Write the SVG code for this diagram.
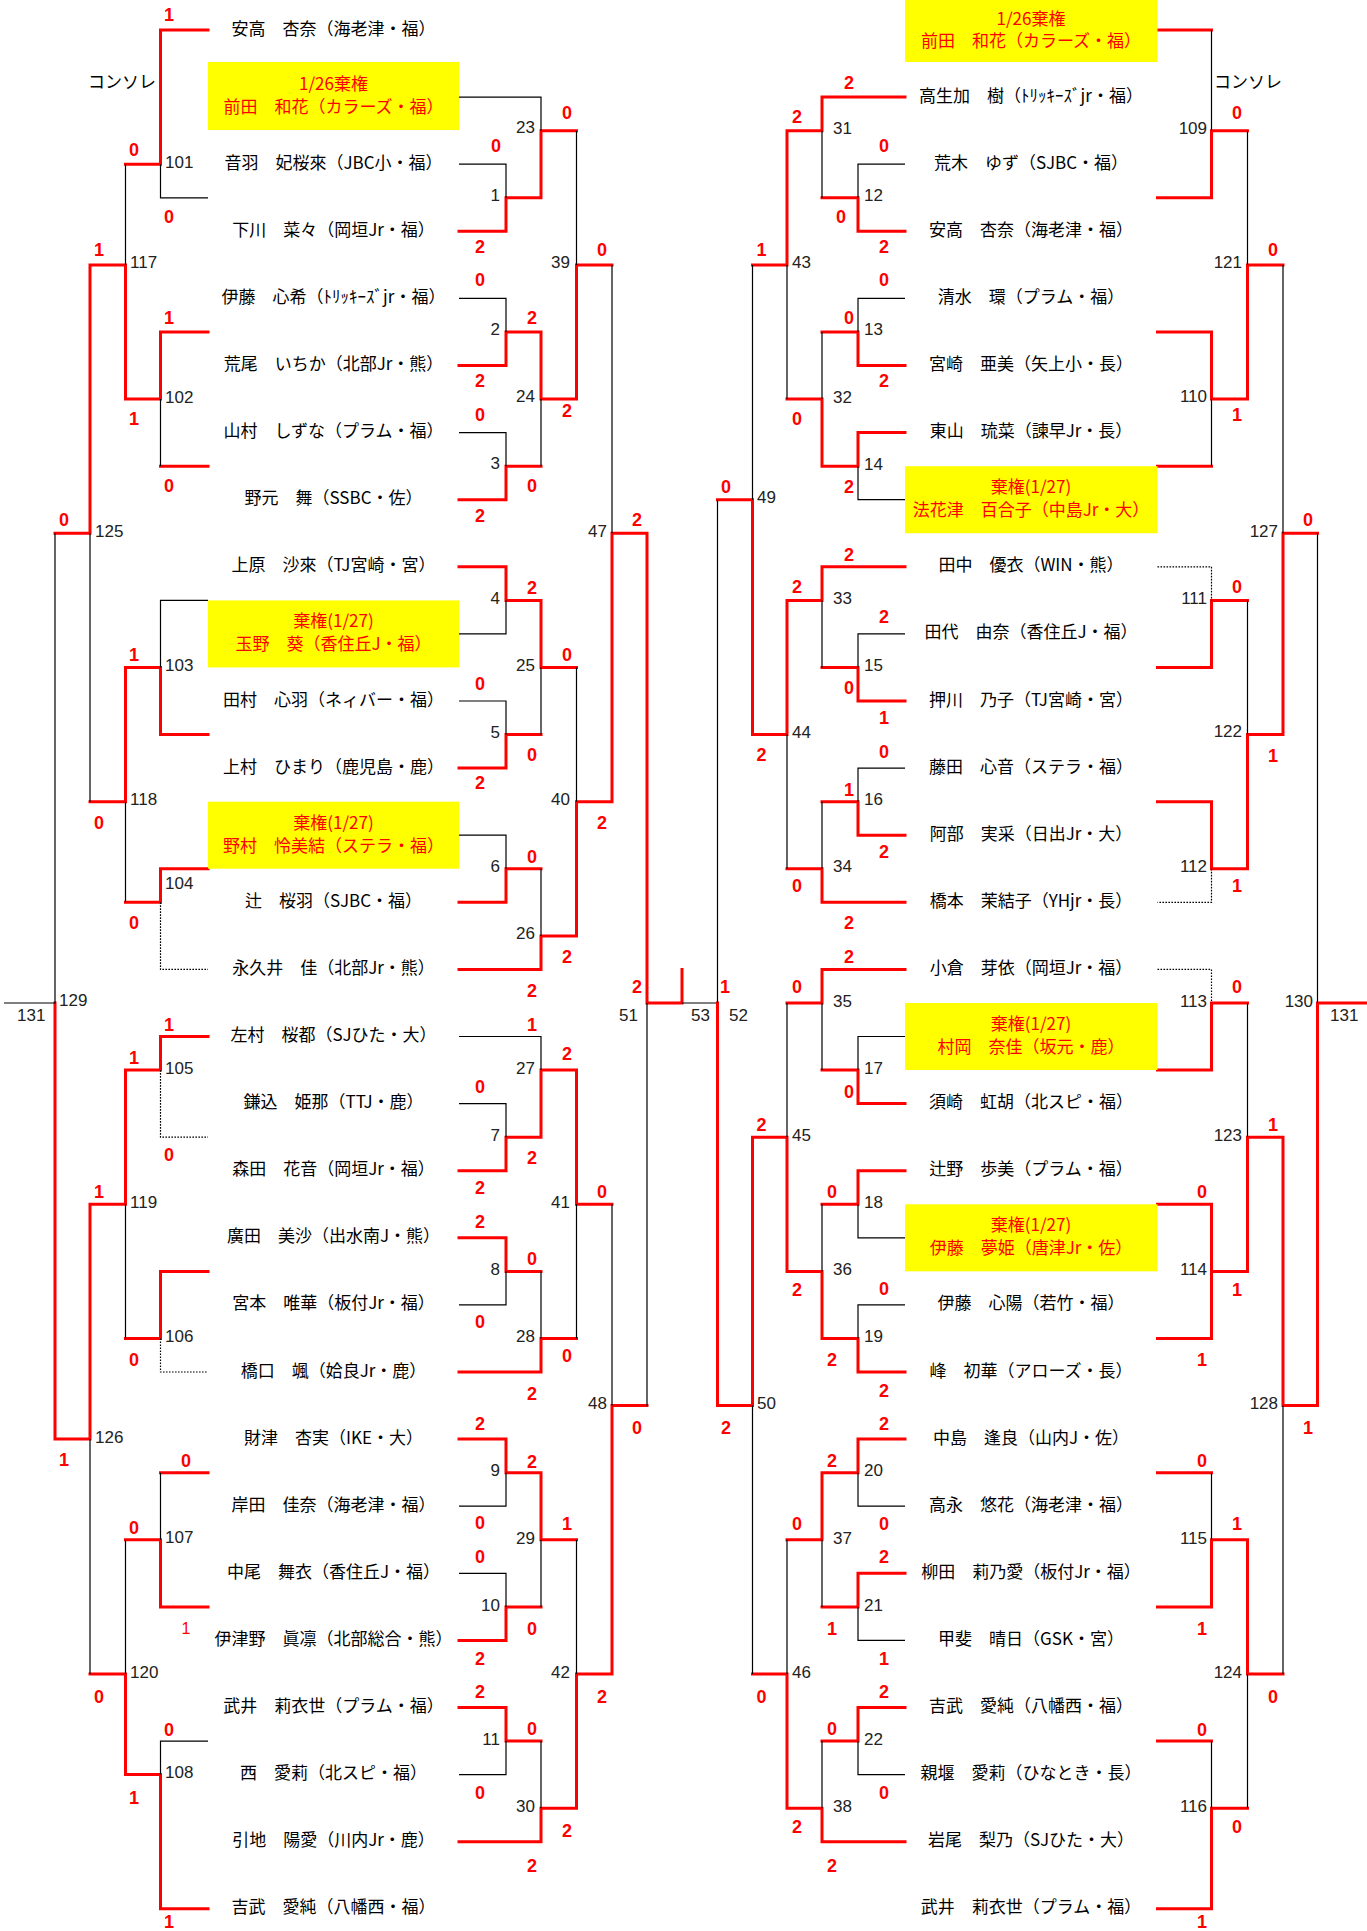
<svg xmlns="http://www.w3.org/2000/svg" width="1367" height="1931" viewBox="0 0 1367 1931">
<style>
.r{stroke:#f00;stroke-width:3;fill:none;stroke-linecap:square}
.k{stroke:#000;stroke-width:1.2;fill:none}
.d{stroke:#000;stroke-width:1.2;fill:none;stroke-dasharray:1.6 1.4}
.bx{fill:#ff0}
.nm{font-family:"Noto Sans CJK JP",sans-serif;font-size:17px;text-anchor:middle;dominant-baseline:central;fill:#000;transform:translateY(-3px)}
.bt{font-family:"Noto Sans CJK JP",sans-serif;font-size:17px;text-anchor:middle;dominant-baseline:central;fill:#f00;transform:translateY(-2.5px)}
.n{font-family:"Liberation Sans",sans-serif;font-size:17px;dominant-baseline:central;fill:#222;transform:translateY(-2px)}
.e{text-anchor:end}
.s{font-family:"Liberation Sans",sans-serif;font-size:18px;font-weight:bold;text-anchor:middle;dominant-baseline:central;fill:#f00}
.t{font-family:"Liberation Sans",sans-serif;font-size:16px;text-anchor:middle;dominant-baseline:central;fill:#f00}
</style>
<rect width="1367" height="1931" fill="#fff"/>

<g id="connectors">
<path class="r" d="M208 30H160.5V164.2H125.5
M90 264.9H125.5V399.1H160.5V332H208
M90 264.9V533.3H55
M160.5 466.2H208
M90 801.7H125.5V667.5H160.5V734.6H208
M208 868.8H160.5V902.3H125.5
M55 1003V1439.1H90V1204.3H125.5V1070.1H160.5V1036.5H208
M208 1271.4H160.5V1338.5H125.5
M160.5 1472.7H208
M125.5 1539.8H160.5V1606.9H208
M90 1674H125.5V1774.6H160.5V1908.8H208"/>
<path class="k" d="M160.5 164.2V197.8H208
M125.5 164.2V264.9
M160.5 399.1V466.2
M55 533.3V1003H4
M90 533.3V801.7
M208 600.4H160.5V667.5
M125.5 801.7V902.3
M125.5 1204.3V1338.5
M90 1439.1V1674
M160.5 1472.7V1539.8
M125.5 1539.8V1674
M208 1741.1H160.5V1774.6"/>
<path class="d" d="M160.5 902.3V969.4H208
M160.5 1070.1V1137.2H208
M160.5 1338.5V1372H208"/>
<path class="r" d="M459 231.3H506V197.8H541V130.7H576.5
M459 365.5H506V332H541V399.1H576.5V264.9H612
M459 499.7H506V466.2H541
M459 566.8H506V600.4H541V667.5H576.5
M459 768.1H506V734.6H541
M459 902.3H506V868.8H541
M459 969.4H541V935.9H576.5V801.7H612V533.3H647V1003H682V969.4
M459 1170.7H506V1137.2H541V1070.1H576.5V1204.3H612
M459 1237.8H506V1271.4H541
M459 1372H541V1338.5H576.5
M647 1405.6H612V1674H576.5V1808.2H541V1841.7H459
M459 1439.1H506V1472.7H541V1539.8H576.5
M459 1640.4H506V1606.9H541
M459 1707.5H506V1741.1H541"/>
<path class="k" d="M459 97.1H541V130.7
M459 164.2H506V197.8
M576.5 130.7V264.9
M459 298.4H506V332
M541 399.1V466.2
M459 432.6H506V466.2
M612 264.9V533.3
M506 600.4V633.9H459
M576.5 667.5V801.7
M541 667.5V734.6
M459 701H506V734.6
M459 835.2H506V868.8
M541 868.8V935.9
M647 1003V1405.6
M459 1036.5H541V1070.1
M459 1103.6H506V1137.2
M612 1204.3V1405.6
M576.5 1204.3V1338.5
M541 1271.4V1338.5
M506 1271.4V1304.9H459
M506 1472.7V1506.2H459
M541 1539.8V1606.9
M576.5 1539.8V1674
M459 1573.3H506V1606.9
M506 1741.1V1774.6H459
M541 1741.1V1808.2
M682 1003H717.5"/>
<path class="r" d="M905 97.1H822V130.7H787V264.9H752.5
M822 197.8H858V231.3H905
M822 332H858V365.5H905
M787 399.1H822V466.2H858V432.6H905
M717.5 499.7H752.5V734.6H787V600.4H822V566.8H905
M822 667.5H858V701H905
M787 868.8H822V902.3H905
M822 801.7H858V835.2H905
M717.5 1003V1405.6H752.5V1137.2H787V1271.4H822V1338.5H858V1372H905
M787 1003H822V969.4H905
M822 1070.1H858V1103.6H905
M822 1204.3H858V1170.7H905
M787 1539.8H822V1472.7H858V1439.1H905
M822 1606.9H858V1573.3H905
M752.5 1674H787V1808.2H822V1841.7H905
M822 1741.1H858V1707.5H905"/>
<path class="k" d="M822 130.7V197.8
M905 164.2H858V197.8
M787 264.9V399.1
M752.5 264.9V499.7
M905 298.4H858V332
M822 332V399.1
M858 466.2V499.7H905
M717.5 499.7V1003
M822 600.4V667.5
M905 633.9H858V667.5
M787 734.6V868.8
M905 768.1H858V801.7
M822 801.7V868.8
M787 1003V1137.2
M822 1003V1070.1
M905 1036.5H858V1070.1
M858 1204.3V1237.8H905
M822 1204.3V1271.4
M905 1304.9H858V1338.5
M752.5 1405.6V1674
M858 1472.7V1506.2H905
M822 1539.8V1606.9
M787 1539.8V1674
M858 1606.9V1640.4H905
M822 1741.1V1808.2
M858 1741.1V1774.6H905"/>
<path class="r" d="M1157.5 30H1211.5
M1157.5 197.8H1211.5V130.7H1247.5
M1157.5 332H1211.5V399.1H1247.5V264.9H1283
M1157.5 466.2H1211.5
M1317.5 533.3H1283V734.6H1247.5V868.8H1211.5V801.7H1157.5
M1247.5 600.4H1211.5V667.5H1157.5
M1367 1003H1317.5V1405.6H1283V1137.2H1247.5V1271.4H1211.5V1204.3H1157.5
M1211.5 1271.4V1338.5H1157.5
M1157.5 1070.1H1211.5V1003H1247.5
M1157.5 1472.7H1211.5
M1157.5 1606.9H1211.5V1539.8H1247.5V1674H1283
M1157.5 1741.1H1211.5
M1247.5 1808.2H1211.5V1908.8H1157.5"/>
<path class="k" d="M1211.5 30V130.7
M1247.5 130.7V264.9
M1211.5 399.1V466.2
M1283 264.9V533.3
M1317.5 533.3V1003
M1247.5 600.4V734.6
M1247.5 1003V1137.2
M1283 1405.6V1674
M1211.5 1472.7V1539.8
M1247.5 1674V1808.2
M1211.5 1741.1V1808.2"/>
<path class="d" d="M1157.5 566.8H1211.5V600.4
M1211.5 868.8V902.3H1157.5
M1157.5 969.4H1211.5V1003"/>
</g>

<g id="left-players">
<g id="L00"><text class="nm" x="333.5" y="30">安高　杏奈（海老津・福）</text></g>
<g id="L01"><rect class="bx" x="208" y="62" width="251" height="68"/><text class="bt" x="333.5" y="84.5">1/26棄権</text><text class="bt" x="333.5" y="107.5">前田　和花（カラーズ・福）</text></g>
<g id="L02"><text class="nm" x="333.5" y="164.2">音羽　妃桜來（JBC小・福）</text></g>
<g id="L03"><text class="nm" x="333.5" y="231.3">下川　菜々（岡垣Jr・福）</text></g>
<g id="L04"><text class="nm" x="333.5" y="298.4">伊藤　心希（ﾄﾘｯｷｰｽﾞjr・福）</text></g>
<g id="L05"><text class="nm" x="333.5" y="365.5">荒尾　いちか（北部Jr・熊）</text></g>
<g id="L06"><text class="nm" x="333.5" y="432.6">山村　しずな（プラム・福）</text></g>
<g id="L07"><text class="nm" x="333.5" y="499.7">野元　舞（SSBC・佐）</text></g>
<g id="L08"><text class="nm" x="333.5" y="566.8">上原　沙來（TJ宮崎・宮）</text></g>
<g id="L09"><rect class="bx" x="208" y="600.4" width="251" height="67"/><text class="bt" x="333.5" y="622.4">棄権(1/27)</text><text class="bt" x="333.5" y="645.4">玉野　葵（香住丘J・福）</text></g>
<g id="L10"><text class="nm" x="333.5" y="701">田村　心羽（ネィバー・福）</text></g>
<g id="L11"><text class="nm" x="333.5" y="768.1">上村　ひまり（鹿児島・鹿）</text></g>
<g id="L12"><rect class="bx" x="208" y="801.7" width="251" height="67"/><text class="bt" x="333.5" y="823.7">棄権(1/27)</text><text class="bt" x="333.5" y="846.7">野村　怜美結（ステラ・福）</text></g>
<g id="L13"><text class="nm" x="333.5" y="902.3">辻　桜羽（SJBC・福）</text></g>
<g id="L14"><text class="nm" x="333.5" y="969.4">永久井　佳（北部Jr・熊）</text></g>
<g id="L15"><text class="nm" x="333.5" y="1036.5">左村　桜都（SJひた・大）</text></g>
<g id="L16"><text class="nm" x="333.5" y="1103.6">鎌込　姫那（TTJ・鹿）</text></g>
<g id="L17"><text class="nm" x="333.5" y="1170.7">森田　花音（岡垣Jr・福）</text></g>
<g id="L18"><text class="nm" x="333.5" y="1237.8">廣田　美沙（出水南J・熊）</text></g>
<g id="L19"><text class="nm" x="333.5" y="1304.9">宮本　唯華（板付Jr・福）</text></g>
<g id="L20"><text class="nm" x="333.5" y="1372">橋口　颯（姶良Jr・鹿）</text></g>
<g id="L21"><text class="nm" x="333.5" y="1439.1">財津　杏実（IKE・大）</text></g>
<g id="L22"><text class="nm" x="333.5" y="1506.2">岸田　佳奈（海老津・福）</text></g>
<g id="L23"><text class="nm" x="333.5" y="1573.3">中尾　舞衣（香住丘J・福）</text></g>
<g id="L24"><text class="nm" x="333.5" y="1640.4">伊津野　眞凛（北部総合・熊）</text></g>
<g id="L25"><text class="nm" x="333.5" y="1707.5">武井　莉衣世（プラム・福）</text></g>
<g id="L26"><text class="nm" x="333.5" y="1774.6">西　愛莉（北スピ・福）</text></g>
<g id="L27"><text class="nm" x="333.5" y="1841.7">引地　陽愛（川内Jr・鹿）</text></g>
<g id="L28"><text class="nm" x="333.5" y="1908.8">吉武　愛純（八幡西・福）</text></g>
</g>

<g id="right-players">
<g id="R00"><rect class="bx" x="905" y="0" width="252.5" height="62"/><text class="bt" x="1031" y="19.5">1/26棄権</text><text class="bt" x="1031" y="42">前田　和花（カラーズ・福）</text></g>
<g id="R01"><text class="nm" x="1031" y="97.1">高生加　樹（ﾄﾘｯｷｰｽﾞjr・福）</text></g>
<g id="R02"><text class="nm" x="1031" y="164.2">荒木　ゆず（SJBC・福）</text></g>
<g id="R03"><text class="nm" x="1031" y="231.3">安高　杏奈（海老津・福）</text></g>
<g id="R04"><text class="nm" x="1031" y="298.4">清水　環（プラム・福）</text></g>
<g id="R05"><text class="nm" x="1031" y="365.5">宮崎　亜美（矢上小・長）</text></g>
<g id="R06"><text class="nm" x="1031" y="432.6">東山　琉菜（諫早Jr・長）</text></g>
<g id="R07"><rect class="bx" x="905" y="466.2" width="252.5" height="67"/><text class="bt" x="1031" y="488.2">棄権(1/27)</text><text class="bt" x="1031" y="511.2">法花津　百合子（中島Jr・大）</text></g>
<g id="R08"><text class="nm" x="1031" y="566.8">田中　優衣（WIN・熊）</text></g>
<g id="R09"><text class="nm" x="1031" y="633.9">田代　由奈（香住丘J・福）</text></g>
<g id="R10"><text class="nm" x="1031" y="701">押川　乃子（TJ宮崎・宮）</text></g>
<g id="R11"><text class="nm" x="1031" y="768.1">藤田　心音（ステラ・福）</text></g>
<g id="R12"><text class="nm" x="1031" y="835.2">阿部　実采（日出Jr・大）</text></g>
<g id="R13"><text class="nm" x="1031" y="902.3">橋本　茉結子（YHjr・長）</text></g>
<g id="R14"><text class="nm" x="1031" y="969.4">小倉　芽依（岡垣Jr・福）</text></g>
<g id="R15"><rect class="bx" x="905" y="1003" width="252.5" height="67"/><text class="bt" x="1031" y="1025">棄権(1/27)</text><text class="bt" x="1031" y="1048">村岡　奈佳（坂元・鹿）</text></g>
<g id="R16"><text class="nm" x="1031" y="1103.6">須崎　虹胡（北スピ・福）</text></g>
<g id="R17"><text class="nm" x="1031" y="1170.7">辻野　歩美（プラム・福）</text></g>
<g id="R18"><rect class="bx" x="905" y="1204.3" width="252.5" height="67"/><text class="bt" x="1031" y="1226.3">棄権(1/27)</text><text class="bt" x="1031" y="1249.3">伊藤　夢姫（唐津Jr・佐）</text></g>
<g id="R19"><text class="nm" x="1031" y="1304.9">伊藤　心陽（若竹・福）</text></g>
<g id="R20"><text class="nm" x="1031" y="1372">峰　初華（アローズ・長）</text></g>
<g id="R21"><text class="nm" x="1031" y="1439.1">中島　逢良（山内J・佐）</text></g>
<g id="R22"><text class="nm" x="1031" y="1506.2">高永　悠花（海老津・福）</text></g>
<g id="R23"><text class="nm" x="1031" y="1573.3">柳田　莉乃愛（板付Jr・福）</text></g>
<g id="R24"><text class="nm" x="1031" y="1640.4">甲斐　晴日（GSK・宮）</text></g>
<g id="R25"><text class="nm" x="1031" y="1707.5">吉武　愛純（八幡西・福）</text></g>
<g id="R26"><text class="nm" x="1031" y="1774.6">親堰　愛莉（ひなとき・長）</text></g>
<g id="R27"><text class="nm" x="1031" y="1841.7">岩尾　梨乃（SJひた・大）</text></g>
<g id="R28"><text class="nm" x="1031" y="1908.8">武井　莉衣世（プラム・福）</text></g>
</g>

<g id="headings">
<text class="nm" x="122" y="83">コンソレ</text>
<text class="nm" x="1248" y="83">コンソレ</text>
</g>

<g id="match-numbers">
<text class="n" x="165" y="164.2">101</text>
<text class="n" x="130" y="264.9">117</text>
<text class="n" x="165" y="399.1">102</text>
<text class="n" x="95" y="533.3">125</text>
<text class="n" x="165" y="667.5">103</text>
<text class="n" x="130" y="801.7">118</text>
<text class="n" x="165" y="885">104</text>
<text class="n" x="59" y="1002">129</text>
<text class="n" x="17" y="1017">131</text>
<text class="n" x="165" y="1070.1">105</text>
<text class="n" x="130" y="1204.3">119</text>
<text class="n" x="165" y="1338.5">106</text>
<text class="n" x="95" y="1439.1">126</text>
<text class="n" x="165" y="1539.8">107</text>
<text class="n" x="130" y="1674">120</text>
<text class="n" x="165" y="1774.6">108</text>
<text class="n e" x="535" y="129">23</text>
<text class="n e" x="500" y="197">1</text>
<text class="n e" x="570" y="264">39</text>
<text class="n e" x="500" y="331">2</text>
<text class="n e" x="535" y="398">24</text>
<text class="n e" x="500" y="465">3</text>
<text class="n e" x="607" y="533">47</text>
<text class="n e" x="500" y="600">4</text>
<text class="n e" x="535" y="667">25</text>
<text class="n e" x="500" y="734">5</text>
<text class="n e" x="570" y="801">40</text>
<text class="n e" x="500" y="868">6</text>
<text class="n e" x="535" y="935">26</text>
<text class="n e" x="638" y="1017">51</text>
<text class="n e" x="535" y="1070">27</text>
<text class="n e" x="500" y="1137">7</text>
<text class="n e" x="570" y="1204">41</text>
<text class="n e" x="500" y="1271">8</text>
<text class="n e" x="535" y="1338">28</text>
<text class="n e" x="607" y="1405">48</text>
<text class="n e" x="500" y="1472">9</text>
<text class="n e" x="535" y="1540">29</text>
<text class="n e" x="500" y="1607">10</text>
<text class="n e" x="570" y="1674">42</text>
<text class="n e" x="500" y="1741">11</text>
<text class="n e" x="535" y="1808">30</text>
<text class="n e" x="710" y="1017">53</text>
<text class="n" x="729" y="1017">52</text>
<text class="n" x="833" y="130">31</text>
<text class="n" x="864" y="197">12</text>
<text class="n" x="792" y="264">43</text>
<text class="n" x="864" y="331">13</text>
<text class="n" x="833" y="399">32</text>
<text class="n" x="864" y="466">14</text>
<text class="n" x="757" y="499">49</text>
<text class="n" x="833" y="600">33</text>
<text class="n" x="864" y="667">15</text>
<text class="n" x="792" y="734">44</text>
<text class="n" x="864" y="801">16</text>
<text class="n" x="833" y="868">34</text>
<text class="n" x="833" y="1003">35</text>
<text class="n" x="864" y="1070">17</text>
<text class="n" x="792" y="1137">45</text>
<text class="n" x="864" y="1204">18</text>
<text class="n" x="833" y="1271">36</text>
<text class="n" x="864" y="1338">19</text>
<text class="n" x="757" y="1405">50</text>
<text class="n" x="864" y="1472">20</text>
<text class="n" x="833" y="1540">37</text>
<text class="n" x="864" y="1607">21</text>
<text class="n" x="792" y="1674">46</text>
<text class="n" x="864" y="1741">22</text>
<text class="n" x="833" y="1808">38</text>
<text class="n e" x="1207" y="130">109</text>
<text class="n e" x="1242" y="264">121</text>
<text class="n e" x="1207" y="398">110</text>
<text class="n e" x="1278" y="533">127</text>
<text class="n e" x="1207" y="600">111</text>
<text class="n e" x="1242" y="733">122</text>
<text class="n e" x="1207" y="868">112</text>
<text class="n e" x="1207" y="1003">113</text>
<text class="n e" x="1313" y="1003">130</text>
<text class="n" x="1330" y="1017">131</text>
<text class="n e" x="1242" y="1137">123</text>
<text class="n e" x="1207" y="1271">114</text>
<text class="n e" x="1278" y="1405">128</text>
<text class="n e" x="1207" y="1540">115</text>
<text class="n e" x="1242" y="1674">124</text>
<text class="n e" x="1207" y="1808">116</text>
</g>

<g id="scores">
<text class="s" x="169" y="15">1</text>
<text class="s" x="134" y="150">0</text>
<text class="s" x="169" y="217">0</text>
<text class="s" x="99" y="250">1</text>
<text class="s" x="169" y="318">1</text>
<text class="s" x="134" y="419">1</text>
<text class="s" x="169" y="486">0</text>
<text class="s" x="64" y="520">0</text>
<text class="s" x="134" y="655">1</text>
<text class="s" x="99" y="823">0</text>
<text class="s" x="134" y="923">0</text>
<text class="s" x="169" y="1025">1</text>
<text class="s" x="134" y="1058">1</text>
<text class="s" x="169" y="1155">0</text>
<text class="s" x="99" y="1192">1</text>
<text class="s" x="134" y="1360">0</text>
<text class="s" x="64" y="1460">1</text>
<text class="s" x="186" y="1461">0</text>
<text class="s" x="134" y="1528">0</text>
<text class="t" x="186" y="1628">1</text>
<text class="s" x="99" y="1697">0</text>
<text class="s" x="169" y="1730">0</text>
<text class="s" x="134" y="1798">1</text>
<text class="s" x="169" y="1922">1</text>

<text class="s" x="567" y="113">0</text>
<text class="s" x="496" y="146">0</text>
<text class="s" x="480" y="247">2</text>
<text class="s" x="602" y="250">0</text>
<text class="s" x="480" y="280">0</text>
<text class="s" x="532" y="318">2</text>
<text class="s" x="480" y="381">2</text>
<text class="s" x="567" y="411">2</text>
<text class="s" x="480" y="415">0</text>
<text class="s" x="532" y="486">0</text>
<text class="s" x="480" y="516">2</text>
<text class="s" x="637" y="520">2</text>
<text class="s" x="532" y="588">2</text>
<text class="s" x="567" y="655">0</text>
<text class="s" x="480" y="684">0</text>
<text class="s" x="532" y="755">0</text>
<text class="s" x="480" y="783">2</text>
<text class="s" x="602" y="823">2</text>
<text class="s" x="532" y="857">0</text>
<text class="s" x="567" y="957">2</text>
<text class="s" x="532" y="991">2</text>
<text class="s" x="637" y="987">2</text>
<text class="s" x="532" y="1025">1</text>
<text class="s" x="567" y="1054">2</text>
<text class="s" x="480" y="1087">0</text>
<text class="s" x="532" y="1158">2</text>
<text class="s" x="480" y="1188">2</text>
<text class="s" x="602" y="1192">0</text>
<text class="s" x="480" y="1222">2</text>
<text class="s" x="532" y="1259">0</text>
<text class="s" x="480" y="1322">0</text>
<text class="s" x="567" y="1356">0</text>
<text class="s" x="532" y="1394">2</text>
<text class="s" x="480" y="1424">2</text>
<text class="s" x="637" y="1428">0</text>
<text class="s" x="532" y="1462">2</text>
<text class="s" x="480" y="1523">0</text>
<text class="s" x="567" y="1524">1</text>
<text class="s" x="480" y="1557">0</text>
<text class="s" x="532" y="1629">0</text>
<text class="s" x="480" y="1659">2</text>
<text class="s" x="602" y="1697">2</text>
<text class="s" x="480" y="1692">2</text>
<text class="s" x="532" y="1729">0</text>
<text class="s" x="480" y="1793">0</text>
<text class="s" x="567" y="1831">2</text>
<text class="s" x="532" y="1866">2</text>

<text class="s" x="849" y="83">2</text>
<text class="s" x="797" y="117">2</text>
<text class="s" x="884" y="146">0</text>
<text class="s" x="841" y="217">0</text>
<text class="s" x="884" y="247">2</text>
<text class="s" x="761.5" y="250">1</text>
<text class="s" x="884" y="280">0</text>
<text class="s" x="849" y="318">0</text>
<text class="s" x="884" y="381">2</text>
<text class="s" x="797" y="419">0</text>
<text class="s" x="849" y="487">2</text>
<text class="s" x="726" y="487">0</text>
<text class="s" x="849" y="555">2</text>
<text class="s" x="797" y="587">2</text>
<text class="s" x="884" y="617">2</text>
<text class="s" x="849" y="688">0</text>
<text class="s" x="884" y="718">1</text>
<text class="s" x="761.5" y="755">2</text>
<text class="s" x="884" y="752">0</text>
<text class="s" x="849" y="790">1</text>
<text class="s" x="884" y="852">2</text>
<text class="s" x="797" y="886">0</text>
<text class="s" x="849" y="923">2</text>
<text class="s" x="849" y="957">2</text>
<text class="s" x="725" y="987">1</text>
<text class="s" x="797" y="987">0</text>
<text class="s" x="849" y="1092">0</text>
<text class="s" x="761.5" y="1125">2</text>
<text class="s" x="832" y="1192">0</text>
<text class="s" x="797" y="1290">2</text>
<text class="s" x="884" y="1289">0</text>
<text class="s" x="832" y="1360">2</text>
<text class="s" x="884" y="1391">2</text>
<text class="s" x="726" y="1428">2</text>
<text class="s" x="884" y="1424">2</text>
<text class="s" x="832" y="1461">2</text>
<text class="s" x="797" y="1524">0</text>
<text class="s" x="884" y="1524">0</text>
<text class="s" x="884" y="1557">2</text>
<text class="s" x="832" y="1629">1</text>
<text class="s" x="884" y="1659">1</text>
<text class="s" x="761.5" y="1697">0</text>
<text class="s" x="884" y="1692">2</text>
<text class="s" x="832" y="1729">0</text>
<text class="s" x="884" y="1793">0</text>
<text class="s" x="797" y="1827">2</text>
<text class="s" x="832" y="1866">2</text>

<text class="s" x="1237" y="113">0</text>
<text class="s" x="1273" y="250">0</text>
<text class="s" x="1237" y="415">1</text>
<text class="s" x="1308" y="520">0</text>
<text class="s" x="1237" y="587">0</text>
<text class="s" x="1273" y="756">1</text>
<text class="s" x="1237" y="886">1</text>
<text class="s" x="1237" y="987">0</text>
<text class="s" x="1273" y="1125">1</text>
<text class="s" x="1202" y="1192">0</text>
<text class="s" x="1237" y="1290">1</text>
<text class="s" x="1202" y="1360">1</text>
<text class="s" x="1308" y="1428">1</text>
<text class="s" x="1202" y="1461">0</text>
<text class="s" x="1237" y="1524">1</text>
<text class="s" x="1202" y="1629">1</text>
<text class="s" x="1273" y="1697">0</text>
<text class="s" x="1202" y="1730">0</text>
<text class="s" x="1237" y="1827">0</text>
<text class="s" x="1202" y="1922">1</text>
</g>
</svg>
